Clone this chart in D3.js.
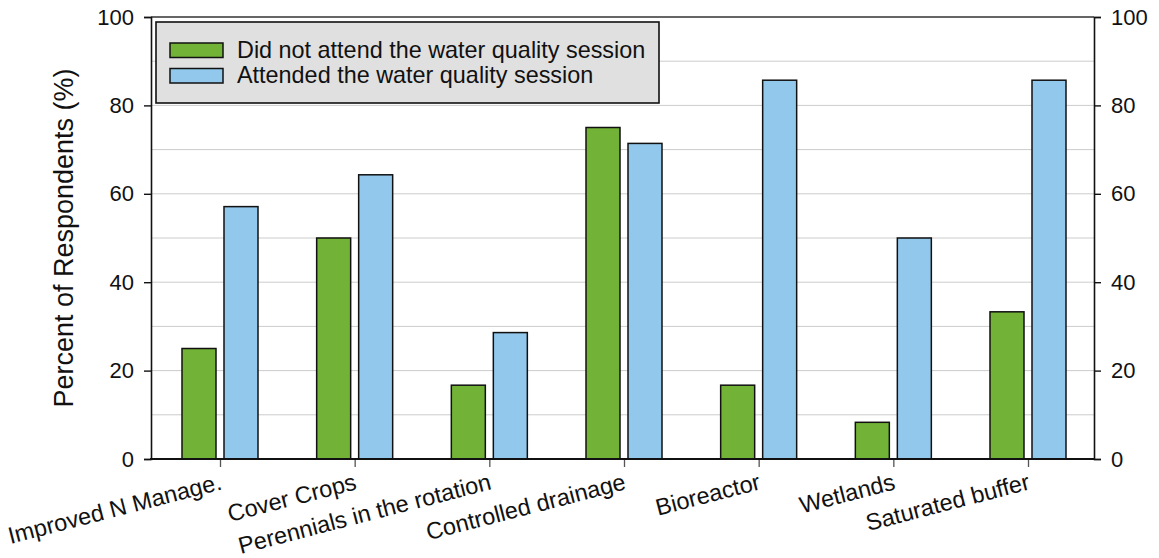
<!DOCTYPE html>
<html>
<head>
<meta charset="utf-8">
<script src="https://cdn.jsdelivr.net/npm/d3@7/dist/d3.min.js"></script>
<style>
  html, body { margin: 0; padding: 0; background: #ffffff; }
  svg { display: block; font-family: "Liberation Sans", Arial, sans-serif; }
</style>
</head>
<body>
<script>
const categories = ["Improved N Manage.", "Cover Crops", "Perennials in the rotation", "Controlled drainage", "Bioreactor", "Wetlands", "Saturated buffer"];
const seriesNames = ["Did not attend the water quality session", "Attended the water quality session"];
const notAttended = [25.0, 50.0, 16.7, 75.0, 16.7, 8.3, 33.3];
const attended = [57.1, 64.3, 28.6, 71.4, 85.7, 50.0, 85.7];
const yTicks = [0, 20, 40, 60, 80, 100];
const gridValues = [10, 20, 30, 40, 50, 60, 70, 80, 90];
const colors = ["#72b236", "#92c8ec"];

const W = 1159, H = 558;
const pLeft = 151, pRight = 1094, pTop = 17, pBottom = 459;

const svg = d3.select("body").append("svg").attr("width", W).attr("height", H);

const y = d3.scaleLinear().domain([0, 100]).range([pBottom, pTop]);
const x = d3.scalePoint().domain(categories).range([220, 1028]);
const xs = d3.scaleBand().domain(seriesNames).range([-38, 38]).paddingInner(8 / 42).paddingOuter(0);

// gridlines
svg.append("g").selectAll("line").data(gridValues).join("line")
  .attr("x1", pLeft).attr("x2", pRight)
  .attr("y1", d => y(d)).attr("y2", d => y(d))
  .attr("stroke", "#cccccc").attr("stroke-width", 1);

// top frame line
svg.append("line").attr("x1", pLeft).attr("x2", pRight).attr("y1", y(100)).attr("y2", y(100))
  .attr("stroke", "#333").attr("stroke-width", 1.5);

// bars
const data = categories.map((c, i) => ({ c, vals: [notAttended[i], attended[i]] }));
const groups = svg.append("g").selectAll("g").data(data).join("g")
  .attr("transform", d => `translate(${x(d.c)},0)`);
groups.selectAll("rect").data(d => d.vals.map((v, j) => ({ s: seriesNames[j], v, j }))).join("rect")
  .attr("x", d => xs(d.s))
  .attr("width", xs.bandwidth())
  .attr("y", d => y(d.v))
  .attr("height", d => y(0) - y(d.v))
  .attr("fill", d => colors[d.j])
  .attr("stroke", "#111").attr("stroke-width", 1.5);

// left axis
const leftAxis = svg.append("g").attr("transform", `translate(${pLeft},0)`)
  .call(d3.axisLeft(y).tickValues(yTicks).tickSize(7).tickPadding(10));
// right axis
const rightAxis = svg.append("g").attr("transform", `translate(${pRight},0)`)
  .call(d3.axisRight(y).tickValues(yTicks).tickSize(7).tickPadding(10));
[leftAxis, rightAxis].forEach(a => {
  a.select(".domain").attr("stroke", "#111").attr("stroke-width", 1.6);
  a.selectAll(".tick line").attr("stroke", "#111").attr("stroke-width", 1.4);
  a.selectAll("text").attr("font-size", 22).attr("fill", "#111")
    .attr("font-family", "Liberation Sans, Arial, sans-serif");
});

// bottom axis
const bottomAxis = svg.append("g").attr("transform", `translate(0,${pBottom})`)
  .call(d3.axisBottom(x).tickSize(8).tickFormat(""));
bottomAxis.select(".domain").remove();
bottomAxis.selectAll(".tick line").attr("stroke", "#555").attr("stroke-width", 1.3);
svg.append("line").attr("x1", pLeft - 1).attr("x2", pRight + 1).attr("y1", pBottom).attr("y2", pBottom)
  .attr("stroke", "#111").attr("stroke-width", 2.2);

// category labels
svg.append("g").selectAll("text").data(categories).join("text")
  .attr("transform", d => `translate(${x(d) + 3},${pBottom + 30}) rotate(-14.5)`)
  .attr("text-anchor", "end")
  .attr("font-size", 23.5)
  .attr("fill", "#111")
  .text(d => d);

// y title
svg.append("text")
  .attr("transform", `translate(73,${(pTop + pBottom) / 2}) rotate(-90)`)
  .attr("text-anchor", "middle")
  .attr("font-size", 27)
  .attr("fill", "#111")
  .text("Percent of Respondents (%)");

// legend
const lg = svg.append("g");
lg.append("rect").attr("x", 156).attr("y", 22).attr("width", 503).attr("height", 81)
  .attr("fill", "#e0e0e0").attr("stroke", "#111").attr("stroke-width", 1.6);
const items = lg.selectAll("g").data(seriesNames).join("g")
  .attr("transform", (d, i) => `translate(0,${i * 25.5})`);
items.append("rect").attr("x", 170).attr("y", 43).attr("width", 53).attr("height", 14.5)
  .attr("fill", (d, i) => colors[i]).attr("stroke", "#111").attr("stroke-width", 1.5);
items.append("text").attr("x", 237).attr("y", 57.5)
  .attr("font-size", 23.4).attr("fill", "#111").text(d => d);
</script>
</body>
</html>
